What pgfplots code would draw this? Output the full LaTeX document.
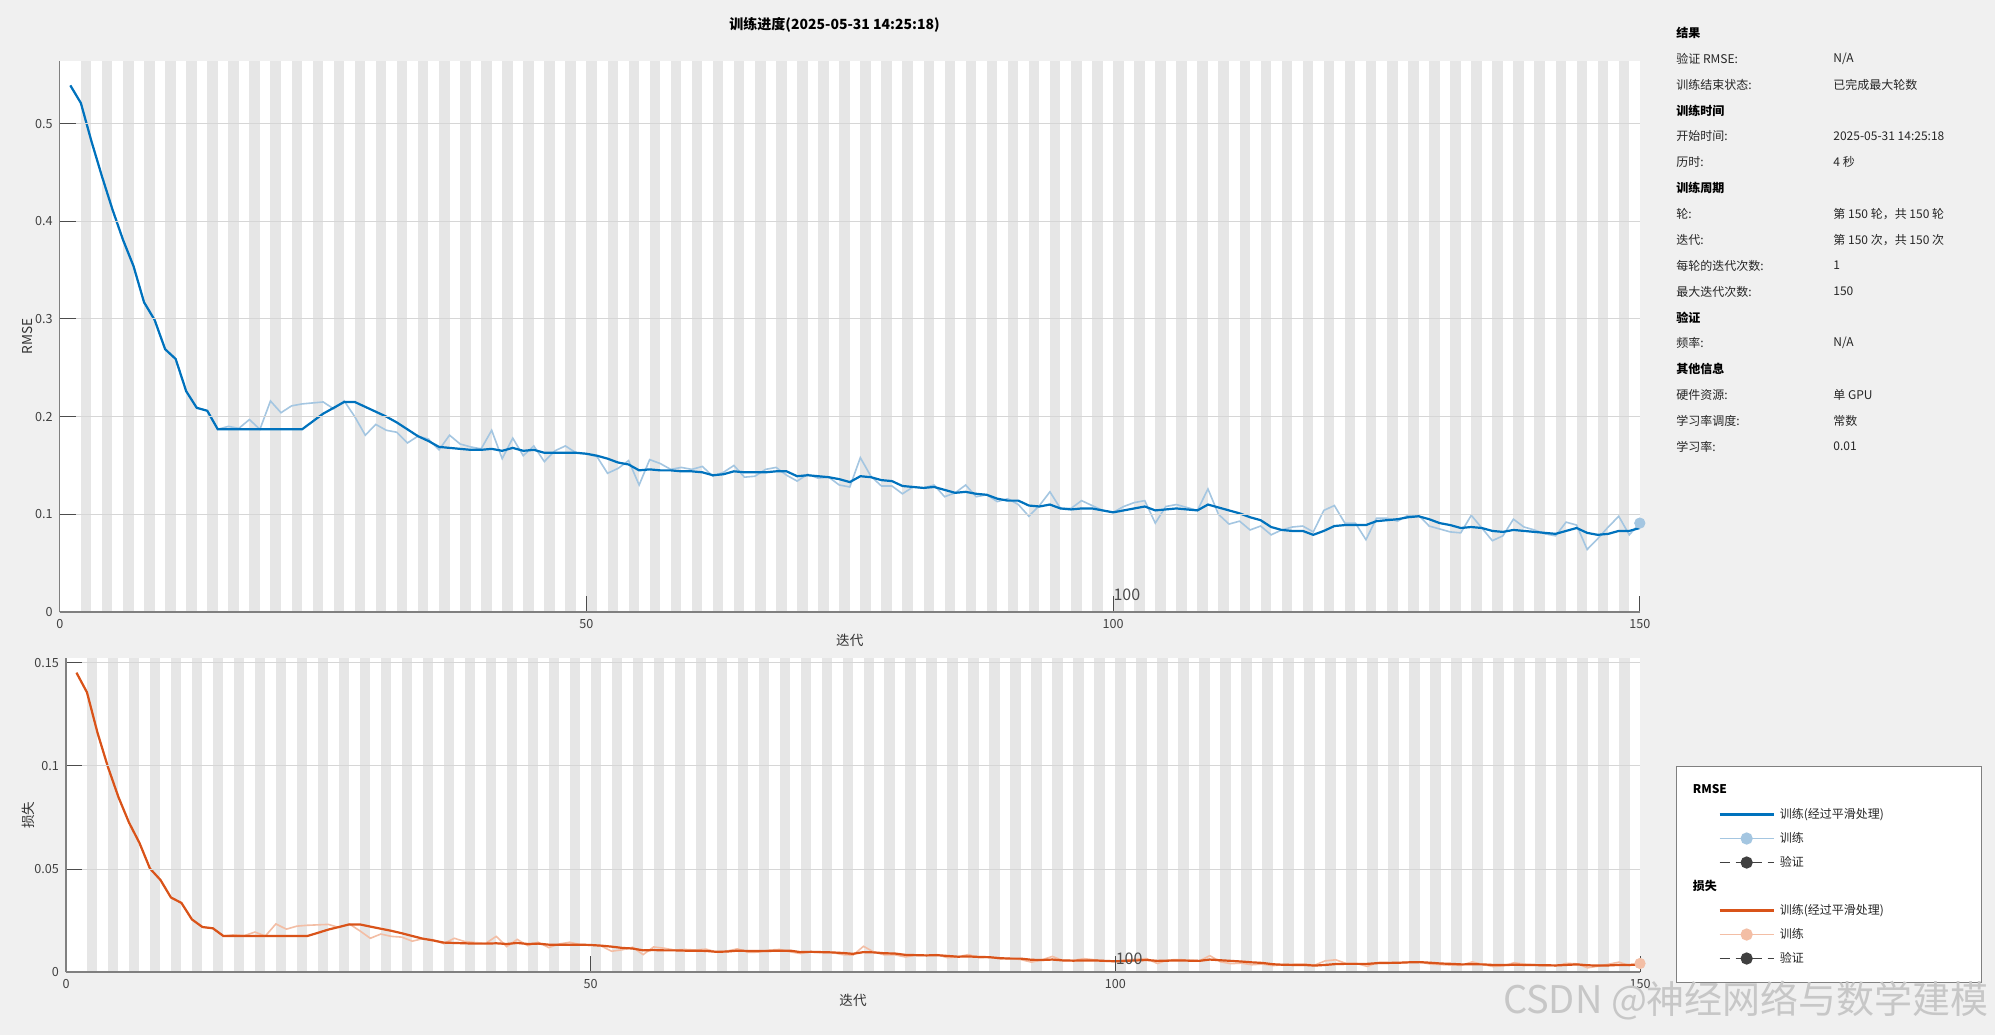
\documentclass[border=0pt]{standalone}
\usepackage{pgfplots}
\pgfplotsset{compat=1.18}
\usepackage{pgfplotstable}
\usepackage{fontspec}
\setmainfont{Noto Sans CJK SC}
\definecolor{bgc}{RGB}{240,240,240}
\definecolor{stripe}{RGB}{230,230,230}
\definecolor{gridc}{RGB}{214,214,214}
\definecolor{mblue}{RGB}{0,114,189}
\definecolor{lblue}{RGB}{164,198,225}
\definecolor{morange}{RGB}{217,83,25}
\definecolor{lorange}{RGB}{243,190,165}
\definecolor{axc}{RGB}{128,128,128}

\pgfplotstableread{
x s r
1 0.539 0.539
2 0.521 0.521
3 0.482 0.482
4 0.446 0.446
5 0.412 0.412
6 0.381 0.381
7 0.354 0.354
8 0.317 0.317
9 0.299 0.299
10 0.269 0.269
11 0.259 0.259
12 0.226 0.226
13 0.209 0.209
14 0.206 0.206
15 0.187 0.187
16 0.187 0.190
17 0.187 0.188
18 0.187 0.197
19 0.187 0.187
20 0.187 0.216
21 0.187 0.204
22 0.187 0.211
23 0.187 0.213
24 0.195 0.214
25 0.203 0.215
26 0.209 0.208
27 0.215 0.216
28 0.215 0.200
29 0.210 0.181
30 0.205 0.192
31 0.200 0.186
32 0.194 0.184
33 0.187 0.173
34 0.180 0.180
35 0.175 0.177
36 0.169 0.166
37 0.168 0.181
38 0.167 0.172
39 0.166 0.169
40 0.166 0.167
41 0.167 0.186
42 0.165 0.157
43 0.168 0.178
44 0.165 0.160
45 0.166 0.170
46 0.163 0.154
47 0.163 0.165
48 0.163 0.170
49 0.163 0.163
50 0.162 0.162
51 0.160 0.159
52 0.157 0.142
53 0.153 0.147
54 0.151 0.155
55 0.145 0.130
56 0.146 0.156
57 0.145 0.152
58 0.145 0.146
59 0.144 0.148
60 0.144 0.146
61 0.143 0.149
62 0.140 0.139
63 0.141 0.143
64 0.144 0.150
65 0.143 0.138
66 0.143 0.139
67 0.143 0.146
68 0.144 0.148
69 0.144 0.140
70 0.139 0.134
71 0.140 0.141
72 0.139 0.137
73 0.138 0.138
74 0.136 0.130
75 0.133 0.128
76 0.139 0.158
77 0.138 0.139
78 0.135 0.129
79 0.134 0.129
80 0.129 0.121
81 0.128 0.128
82 0.127 0.127
83 0.128 0.130
84 0.125 0.118
85 0.122 0.122
86 0.123 0.130
87 0.121 0.118
88 0.120 0.120
89 0.116 0.113
90 0.114 0.116
91 0.114 0.110
92 0.109 0.098
93 0.108 0.109
94 0.110 0.123
95 0.106 0.106
96 0.105 0.106
97 0.106 0.114
98 0.106 0.109
99 0.104 0.104
100 0.102 0.102
101 0.104 0.108
102 0.106 0.112
103 0.108 0.114
104 0.104 0.091
105 0.105 0.108
106 0.106 0.110
107 0.105 0.107
108 0.104 0.104
109 0.110 0.126
110 0.107 0.100
111 0.104 0.090
112 0.101 0.093
113 0.097 0.084
114 0.094 0.088
115 0.087 0.079
116 0.084 0.084
117 0.083 0.087
118 0.083 0.088
119 0.079 0.082
120 0.083 0.104
121 0.088 0.109
122 0.089 0.091
123 0.089 0.091
124 0.089 0.074
125 0.093 0.096
126 0.094 0.096
127 0.095 0.093
128 0.097 0.099
129 0.098 0.099
130 0.095 0.088
131 0.091 0.085
132 0.089 0.082
133 0.086 0.081
134 0.087 0.099
135 0.086 0.086
136 0.083 0.073
137 0.082 0.078
138 0.084 0.095
139 0.083 0.087
140 0.082 0.084
141 0.081 0.080
142 0.080 0.078
143 0.083 0.092
144 0.086 0.089
145 0.081 0.064
146 0.079 0.075
147 0.080 0.087
148 0.083 0.098
149 0.083 0.079
150 0.086 0.091
}\rmsedata

\pgfplotstableread{
x s r
1 0.14526 0.14526
2 0.13572 0.13572
3 0.11616 0.11616
4 0.09946 0.09946
5 0.08487 0.08487
6 0.07258 0.07258
7 0.06266 0.06266
8 0.05024 0.05024
9 0.04470 0.04470
10 0.03618 0.03618
11 0.03354 0.03354
12 0.02554 0.02554
13 0.02184 0.02184
14 0.02122 0.02122
15 0.01748 0.01748
16 0.01748 0.01805
17 0.01748 0.01767
18 0.01748 0.01940
19 0.01748 0.01748
20 0.01748 0.02333
21 0.01748 0.02081
22 0.01748 0.02226
23 0.01748 0.02268
24 0.01901 0.02290
25 0.02060 0.02311
26 0.02184 0.02163
27 0.02311 0.02333
28 0.02311 0.02000
29 0.02205 0.01638
30 0.02101 0.01843
31 0.02000 0.01730
32 0.01882 0.01693
33 0.01748 0.01496
34 0.01620 0.01620
35 0.01531 0.01566
36 0.01428 0.01378
37 0.01411 0.01638
38 0.01394 0.01479
39 0.01378 0.01428
40 0.01378 0.01394
41 0.01394 0.01730
42 0.01361 0.01232
43 0.01411 0.01584
44 0.01361 0.01280
45 0.01378 0.01445
46 0.01328 0.01186
47 0.01328 0.01361
48 0.01328 0.01445
49 0.01328 0.01328
50 0.01312 0.01312
51 0.01280 0.01264
52 0.01232 0.01008
53 0.01170 0.01080
54 0.01140 0.01201
55 0.01051 0.00845
56 0.01066 0.01217
57 0.01051 0.01155
58 0.01051 0.01066
59 0.01037 0.01095
60 0.01037 0.01066
61 0.01022 0.01110
62 0.00980 0.00966
63 0.00994 0.01022
64 0.01037 0.01125
65 0.01022 0.00952
66 0.01022 0.00966
67 0.01022 0.01066
68 0.01037 0.01095
69 0.01037 0.00980
70 0.00966 0.00898
71 0.00980 0.00994
72 0.00966 0.00938
73 0.00952 0.00952
74 0.00925 0.00845
75 0.00884 0.00819
76 0.00966 0.01248
77 0.00952 0.00966
78 0.00911 0.00832
79 0.00898 0.00832
80 0.00832 0.00732
81 0.00819 0.00819
82 0.00806 0.00806
83 0.00819 0.00845
84 0.00781 0.00696
85 0.00744 0.00744
86 0.00756 0.00845
87 0.00732 0.00696
88 0.00720 0.00720
89 0.00673 0.00638
90 0.00650 0.00673
91 0.00650 0.00605
92 0.00594 0.00480
93 0.00583 0.00594
94 0.00605 0.00756
95 0.00562 0.00562
96 0.00551 0.00562
97 0.00562 0.00650
98 0.00562 0.00594
99 0.00541 0.00541
100 0.00520 0.00520
101 0.00541 0.00583
102 0.00562 0.00627
103 0.00583 0.00650
104 0.00541 0.00414
105 0.00551 0.00583
106 0.00562 0.00605
107 0.00551 0.00572
108 0.00541 0.00541
109 0.00605 0.00794
110 0.00572 0.00500
111 0.00541 0.00405
112 0.00510 0.00432
113 0.00470 0.00353
114 0.00442 0.00387
115 0.00378 0.00312
116 0.00353 0.00353
117 0.00344 0.00378
118 0.00344 0.00387
119 0.00312 0.00336
120 0.00344 0.00541
121 0.00387 0.00594
122 0.00396 0.00414
123 0.00396 0.00414
124 0.00396 0.00274
125 0.00432 0.00461
126 0.00442 0.00461
127 0.00451 0.00432
128 0.00470 0.00490
129 0.00480 0.00490
130 0.00451 0.00387
131 0.00414 0.00361
132 0.00396 0.00336
133 0.00370 0.00328
134 0.00378 0.00490
135 0.00370 0.00370
136 0.00344 0.00266
137 0.00336 0.00304
138 0.00353 0.00451
139 0.00344 0.00378
140 0.00336 0.00353
141 0.00328 0.00320
142 0.00320 0.00304
143 0.00344 0.00423
144 0.00370 0.00396
145 0.00328 0.00205
146 0.00312 0.00281
147 0.00320 0.00378
148 0.00344 0.00480
149 0.00344 0.00312
150 0.00370 0.00414
}\lossdata

\pgfplotsset{
  trainaxis/.style={
    scale only axis, axis on top,
    axis background/.style={fill=white},
    xmin=0, xmax=150, ymin=0,
    axis lines*=left,
    axis line style={draw=axc, line width=0.6pt},
    xtick={0,50,100,150},
    ymajorgrids, major grid style={draw=gridc, line width=0.5pt},
    tick align=inside, major tick length=8pt,
    tick style={draw=black!70, line width=0.5pt},
    ticklabel style={font=\fontsize{6.3}{7}\selectfont, text=black!75},
    /pgf/number format/assume math mode=true,
    yticklabel style={/pgf/number format/fixed, /pgf/number format/precision=2},
    label style={font=\fontsize{6.8}{8}\selectfont, text=black!80},
    xlabel={迭代},
    xlabel style={at={(axis description cs:0.5,0)}, anchor=center, yshift=-14.3pt},
  }
}

\begin{document}
\begin{tikzpicture}
\fill[bgc] (0,0) rectangle (997.5pt,-517.5pt);

% ---------- RMSE axis ----------
\begin{axis}[trainaxis,
  at={(29.9pt,-306pt)}, anchor=south west,
  width=790pt, height=275.5pt,
  ymax=0.564, ytick={0,0.1,0.2,0.3,0.4,0.5},
  ylabel={RMSE},
  ylabel style={at={(axis description cs:-0.0203,0.5)}, anchor=center},
]
\pgfplotsinvokeforeach{2,4,...,148}{\fill[stripe] (axis cs:#1,0) rectangle (axis cs:{#1+1},0.564);}
\addplot[lblue, line width=0.8pt, forget plot] table[x=x, y=r]{\rmsedata};
\addplot[mblue, line width=1.1pt, forget plot] table[x=x, y=s]{\rmsedata};
\addplot[only marks, mark=*, mark size=2.6pt, color=lblue, forget plot] coordinates {(150,0.091)};
\node[anchor=base west, inner sep=0pt, font=\fontsize{8}{9}\selectfont, text=black!70] at (axis cs:100,0.012) {100};
\end{axis}

% ---------- Loss axis ----------
\begin{axis}[trainaxis,
  at={(33pt,-486pt)}, anchor=south west,
  width=787pt, height=157pt,
  ymax=0.1524, ytick={0,0.05,0.1,0.15},
  ylabel={损失},
  ylabel style={at={(axis description cs:-0.0241,0.5)}, anchor=center},
  legend cell align=left,
  legend image code/.code={\draw[mark repeat=2, mark phase=2, #1] plot coordinates {(0pt,0pt) (13.5pt,0pt) (27pt,0pt)};},
  legend style={at={(1.0229,0.656)}, anchor=north west,
    draw=black!50, fill=white, line width=0.5pt,
    inner xsep=21pt, inner ysep=6pt, row sep=0pt,
    font=\fontsize{6}{7}\selectfont, text=black!85,
    nodes={inner xsep=0pt, inner ysep=0pt, minimum height=12pt, text width=80pt, align=left},
    /tikz/every odd column/.append style={column sep=2.5pt}},
]
\pgfplotsinvokeforeach{2,4,...,148}{\fill[stripe] (axis cs:#1,0) rectangle (axis cs:{#1+1},0.1524);}
\addplot[lorange, line width=0.8pt, forget plot] table[x=x, y=r]{\lossdata};
\addplot[morange, line width=1.1pt, forget plot] table[x=x, y=s]{\lossdata};
\addplot[only marks, mark=*, mark size=2.6pt, color=lorange, forget plot] coordinates {(150,0.00414)};
\node[anchor=base west, inner sep=0pt, font=\fontsize{8}{9}\selectfont, text=black!70] at (axis cs:100,0.0036) {100};

\addlegendimage{empty legend}
\addlegendentry{\hspace*{-43.5pt}\textcolor{black}{\bfseries RMSE}}
\addlegendimage{mblue, line width=1.1pt}
\addlegendentry{训练(经过平滑处理)}
\addlegendimage{lblue, line width=0.9pt, mark=*, mark size=2.6pt, mark options={fill=lblue, draw=lblue}}
\addlegendentry{训练}
\addlegendimage{black!75, line width=0.9pt, dash pattern=on 5pt off 3pt, mark=*, mark size=2.6pt, mark options={solid, fill=black!75}}
\addlegendentry{验证}
\addlegendimage{empty legend}
\addlegendentry{\hspace*{-43.5pt}\textcolor{black}{\bfseries 损失}}
\addlegendimage{morange, line width=1.1pt}
\addlegendentry{训练(经过平滑处理)}
\addlegendimage{lorange, line width=0.9pt, mark=*, mark size=2.6pt, mark options={fill=lorange, draw=lorange}}
\addlegendentry{训练}
\addlegendimage{black!75, line width=0.9pt, dash pattern=on 5pt off 3pt, mark=*, mark size=2.6pt, mark options={solid, fill=black!75}}
\addlegendentry{验证}
\end{axis}

% ---------- title ----------
\node[font=\bfseries\fontsize{7}{8}\selectfont, text=black] at (417.3pt,-12.5pt) {训练进度(2025-05-31 14:25:18)};

% ---------- info panel ----------
\begin{scope}[every node/.style={anchor=west, inner sep=0pt, font=\fontsize{6}{7}\selectfont, text=black!85}]
\node[font=\bfseries\fontsize{6}{7}\selectfont, text=black] at (838pt,-16.5pt) {结果};
\node at (838pt,-29.45pt) {验证 RMSE:};      \node at (916.5pt,-29.45pt) {N/A};
\node at (838pt,-42.35pt) {训练结束状态:};    \node at (916.5pt,-42.35pt) {已完成最大轮数};
\node[font=\bfseries\fontsize{6}{7}\selectfont, text=black] at (838pt,-55.3pt) {训练时间};
\node at (838pt,-68.2pt) {开始时间:};        \node at (916.5pt,-68.2pt) {2025-05-31 14:25:18};
\node at (838pt,-81.15pt) {历时:};          \node at (916.5pt,-81.15pt) {4 秒};
\node[font=\bfseries\fontsize{6}{7}\selectfont, text=black] at (838pt,-94.05pt) {训练周期};
\node at (838pt,-107pt) {轮:};             \node at (916.5pt,-107pt) {第 150 轮，共 150 轮};
\node at (838pt,-119.9pt) {迭代:};          \node at (916.5pt,-119.9pt) {第 150 次，共 150 次};
\node at (838pt,-132.85pt) {每轮的迭代次数:};  \node at (916.5pt,-132.85pt) {1};
\node at (838pt,-145.75pt) {最大迭代次数:};   \node at (916.5pt,-145.75pt) {150};
\node[font=\bfseries\fontsize{6}{7}\selectfont, text=black] at (838pt,-158.7pt) {验证};
\node at (838pt,-171.6pt) {频率:};          \node at (916.5pt,-171.6pt) {N/A};
\node[font=\bfseries\fontsize{6}{7}\selectfont, text=black] at (838pt,-184.55pt) {其他信息};
\node at (838pt,-197.45pt) {硬件资源:};      \node at (916.5pt,-197.45pt) {单 GPU};
\node at (838pt,-210.4pt) {学习率调度:};     \node at (916.5pt,-210.4pt) {常数};
\node at (838pt,-223.3pt) {学习率:};        \node at (916.5pt,-223.3pt) {0.01};
\end{scope}

% ---------- watermark ----------
\node[text=black!22, font=\fontsize{19}{21}\selectfont, anchor=center] at (873pt,-500.5pt) {CSDN @神经网络与数学建模};
\pgfresetboundingbox
\useasboundingbox (0,0) rectangle (997.5pt,-517.5pt);
\end{tikzpicture}
\end{document}
